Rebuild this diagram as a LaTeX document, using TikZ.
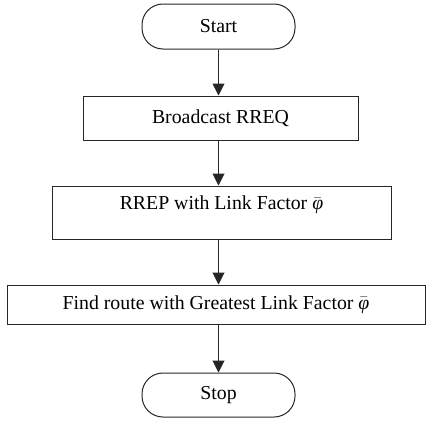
\documentclass[tikz,border=0pt]{standalone}
\usepackage{fontspec}
\setmainfont{Liberation Serif}
\usetikzlibrary{arrows.meta}
% italic phi with a bar, set in the text font
\newcommand{\phibar}{$\bar{\hbox{\itshape φ}}$}
\begin{document}
\begin{tikzpicture}[x=1pt,y=-1pt,
  every node/.style={font=\fontsize{19.8}{24}\selectfont},
  terminal/.style={draw=black!85, line width=1pt, rounded corners=21pt,
    minimum width=153pt, inner sep=0pt},
  procbox/.style={draw=black!85, line width=1pt, inner sep=0pt},
  flow/.style={draw=black!85, line width=1pt,
    -{Triangle[width=12pt,length=12pt]}}]
  \useasboundingbox (0,0) rectangle (428,423);
  \node[terminal, minimum height=45pt] (start) at (218.5,26.5) {Start};
  \node[procbox, minimum width=275pt, minimum height=44pt] (bcast) at (220.5,118) {Broadcast RREQ};
  \node[procbox, minimum width=339pt, minimum height=53pt, text depth=19pt] (rrep) at (221.5,212.5) {RREP with Link Factor \phibar};
  \node[procbox, minimum width=418pt, minimum height=39pt] (find) at (216,304.5) {Find route with Greatest Link Factor \phibar};
  \node[terminal, minimum height=44pt] (stop) at (218.5,395) {Stop};
  \draw[flow] (start.south) -- (start.south |- bcast.north);
  \draw[flow] (start.south |- bcast.south) -- (start.south |- rrep.north);
  \draw[flow] (start.south |- rrep.south) -- (start.south |- find.north);
  \draw[flow] (start.south |- find.south) -- (stop.north);
\end{tikzpicture}
\end{document}
